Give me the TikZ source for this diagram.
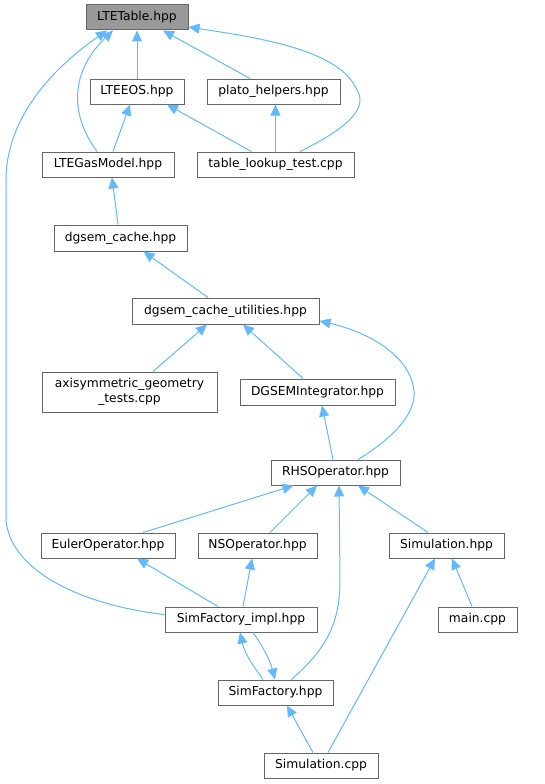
\documentclass[tikz,border=0pt]{standalone}
\usepackage{fontspec}
\setmainfont{DejaVu Sans}
\usetikzlibrary{arrows.meta,calc}
\definecolor{edgecol}{HTML}{63B8FF}
\definecolor{bordercol}{HTML}{666666}
\definecolor{rootfill}{HTML}{999999}
\begin{document}
\begin{tikzpicture}[x=1pt,y=-1pt,
  box/.style={draw=bordercol,line width=1pt,fill=white,inner sep=0pt,minimum height=25pt,font=\fontsize{12.3}{14}\selectfont,text=black},
  edge/.style={draw=edgecol,line width=1pt,-{Triangle[length=11pt,width=10pt]}}]
\useasboundingbox (0,0) rectangle (545,784);
\node[box,minimum width=102pt,fill=rootfill] (tab) at (137,17.5) {LTETable.hpp};
\node[box,minimum width=94pt] (eos) at (137,91.5) {LTEEOS.hpp};
\node[box,minimum width=133pt] (plato) at (273.5,91.5) {plato\_helpers.hpp};
\node[box,minimum width=132pt] (gas) at (108,164.5) {LTEGasModel.hpp};
\node[box,minimum width=157pt] (tlt) at (275.5,164.5) {table\_lookup\_test.cpp};
\node[box,minimum width=133pt,minimum height=26pt] (dc) at (120.5,238) {dgsem\_cache.hpp};
\node[box,minimum width=187pt,minimum height=26pt] (dcu) at (225.5,311) {dgsem\_cache\_utilities.hpp};
\node[box,minimum width=175pt,minimum height=40pt,align=center,font=\fontsize{12.3}{15}\selectfont] (axi) at (129.5,392) {axisymmetric\_geometry\\\_tests.cpp};
\node[box,minimum width=155pt,minimum height=26pt] (dgi) at (317.5,392) {DGSEMIntegrator.hpp};
\node[box,minimum width=129pt] (rhs) at (335.5,472.5) {RHSOperator.hpp};
\node[box,minimum width=134pt] (eul) at (108,545.5) {EulerOperator.hpp};
\node[box,minimum width=119pt] (ns) at (257.5,545.5) {NSOperator.hpp};
\node[box,minimum width=115pt] (simh) at (446.5,545.5) {Simulation.hpp};
\node[box,minimum width=152pt] (sfi) at (241,619.5) {SimFactory\_impl.hpp};
\node[box,minimum width=79pt] (mainc) at (477.5,619.5) {main.cpp};
\node[box,minimum width=115pt] (sf) at (275.5,692.5) {SimFactory.hpp};
\node[box,minimum width=114pt] (simc) at (321,765.5) {Simulation.cpp};

\draw[edge] (eos.north) -- (tab.south);
\draw[edge] ([xshift=-23.5pt]plato.north) -- ([xshift=26pt]tab.south);
\draw[edge] ([xshift=24.5pt]tlt.north) .. controls (340,132) and (370,110) .. (357,90) .. controls (340,50) and (260,38) .. ([yshift=-9.5pt]tab.east);
\draw[edge] ([xshift=-11pt]gas.north) .. controls (68,112) and (72,70) .. ([xshift=-24pt]tab.south);
\draw[edge] ([yshift=5pt]sfi.west) .. controls (80,605) and (10,570) .. (6,520) -- (6,180) .. controls (6,120) and (50,70) .. ([xshift=-30pt]tab.south);
\draw[edge] ([xshift=5pt]gas.north) -- ([xshift=-7pt]eos.south);
\draw[edge] ([xshift=-24pt]tlt.north) -- ([xshift=30pt]eos.south);
\draw[edge] (tlt.north) -- (tlt.north |- plato.south);
\draw[edge] ([xshift=-2.5pt]dc.north) -- ([xshift=4pt]gas.south);
\draw[edge] ([xshift=-17.5pt]dcu.north) -- ([xshift=23pt]dc.south);
\draw[edge] ([xshift=23.5pt]axi.north) -- ([xshift=-18.5pt]dcu.south);
\draw[edge] ([xshift=-14.5pt]dgi.north) -- ([xshift=17.5pt]dcu.south);
\draw[edge] ([xshift=22.5pt]rhs.north) .. controls (395,437) and (420,410) .. (413,385) .. controls (405,350) and (360,330) .. ([yshift=-10pt]dcu.east);
\draw[edge] ([xshift=-2.5pt]rhs.north) -- ([xshift=4.5pt]dgi.south);
\draw[edge] ([xshift=35pt]eul.north) -- ([xshift=-42pt]rhs.south);
\draw[edge] ([xshift=12.5pt]ns.north) -- ([xshift=-18.5pt]rhs.south);
\draw[edge] ([xshift=-18.5pt]simh.north) -- ([xshift=22.5pt]rhs.south);
\draw[edge] ([xshift=16pt]sf.north) .. controls (325,650) and (340,625) .. (340,580) -- ([xshift=3.5pt]rhs.south);
\draw[edge] ([xshift=-23pt]sfi.north) -- ([xshift=29pt]eul.south);
\draw[edge] ([xshift=2pt]sfi.north) -- ([xshift=-5.5pt]ns.south);
\draw[edge] ([xshift=-5.5pt]mainc.north) -- ([xshift=5.5pt]simh.south);
\draw[edge] ([xshift=7pt]simc.north) -- ([xshift=-11.5pt]simh.south);
\draw[edge] ([xshift=-12.5pt]sf.north) .. controls (255,668) and (245,655) .. ([xshift=-1pt]sfi.south);
\draw[edge] ([xshift=12pt]sfi.south) .. controls (262,645) and (270,660) .. ([xshift=-0.5pt]sf.north);
\draw[edge] ([xshift=-8pt]simc.north) -- ([xshift=11.5pt]sf.south);
\end{tikzpicture}
\end{document}
